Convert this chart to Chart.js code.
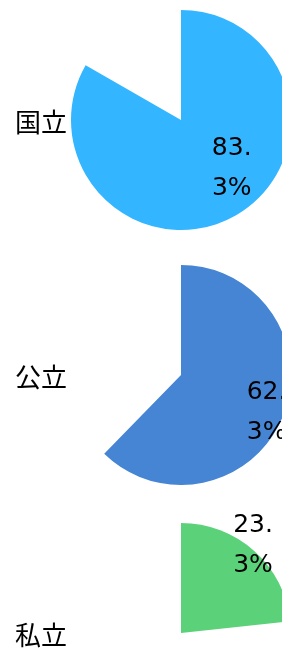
<!DOCTYPE html>
<html>
<head>
<meta charset="utf-8">
<script src="https://cdn.jsdelivr.net/npm/chart.js@4/dist/chart.umd.min.js"></script>
<style>
  html, body { margin: 0; padding: 0; background: #fff; }
  #page { position: relative; width: 282px; height: 648px; overflow: hidden; }
  .box { position: absolute; left: 0; width: 292px; height: 260px; }
</style>
</head>
<body>
<div id="page">
  <div class="box" style="top:-10px"><canvas id="c0"></canvas></div>
  <div class="box" style="top:245px"><canvas id="c1"></canvas></div>
  <div class="box" style="top:503px"><canvas id="c2"></canvas></div>
</div>
<script>
'use strict';

/** @desc Categories, one pie each */
const CATEGORIES = ['国立', '公立', '私立'];

/** @desc Share of each category, percent */
const SHARES = [83.3, 62.3, 23.3];

/** @desc Slice colour of each pie */
const COLORS = ['#33B5FF', '#4585D4', '#5BD17A'];

/** @desc Where the value text sits: fraction of the slice angle, fraction of the radius */
const TEXT_ANGLE = [0.44, 0.5, 0.46];
const TEXT_RADIUS = [0.62, 0.84, 1.05];

const VALUE_FONT = '25px "DejaVu Sans", sans-serif';
const NAME_FONT = '26px "Noto Sans CJK JP", sans-serif';

/** @desc Draws the value text and the category name of a pie */
const PIE_TEXT = {
  id: 'pieText',
  afterDatasetsDraw(chart, args, opts) {
    const ctx = chart.ctx;
    const arc = chart.getDatasetMeta(0).data[0];
    const p = arc.getProps(['x', 'y', 'startAngle', 'endAngle', 'outerRadius'], true);
    const ang = p.startAngle + (p.endAngle - p.startAngle) * opts.angle;
    const d = p.outerRadius * opts.radius;
    const tx = p.x + Math.cos(ang) * d;
    const ty = p.y + Math.sin(ang) * d;
    const s = chart.data.datasets[0].data[0].toFixed(1);
    const cut = s.indexOf('.') + 1;
    const lines = [s.slice(0, cut), s.slice(cut) + '%'];
    ctx.save();
    ctx.fillStyle = '#000';
    ctx.font = VALUE_FONT;
    ctx.textAlign = 'center';
    ctx.textBaseline = 'alphabetic';
    ctx.fillText(lines[0], tx, ty - 11);
    ctx.fillText(lines[1], tx, ty + 29);
    ctx.font = NAME_FONT;
    ctx.textAlign = 'left';
    ctx.textBaseline = 'middle';
    ctx.fillText(chart.data.labels[0], 15, p.y + 2);
    ctx.restore();
  }
};

CATEGORIES.forEach((name, i) => {
  const CTX = document.getElementById('c' + i).getContext('2d');
  new Chart(CTX, {
    type: 'pie',
    data: {
      labels: [name, ''],
      datasets: [{
        data: [SHARES[i], 100 - SHARES[i]],
        backgroundColor: [COLORS[i], 'rgba(0,0,0,0)'],
        borderWidth: 0
      }]
    },
    options: {
      responsive: true,
      maintainAspectRatio: false,
      animation: false,
      layout: { padding: { left: 70, top: 20, bottom: 20 } },
      plugins: {
        legend: { display: false },
        tooltip: { enabled: false },
        pieText: { angle: TEXT_ANGLE[i], radius: TEXT_RADIUS[i] }
      }
    },
    plugins: [PIE_TEXT]
  });
});
</script>
</body>
</html>
